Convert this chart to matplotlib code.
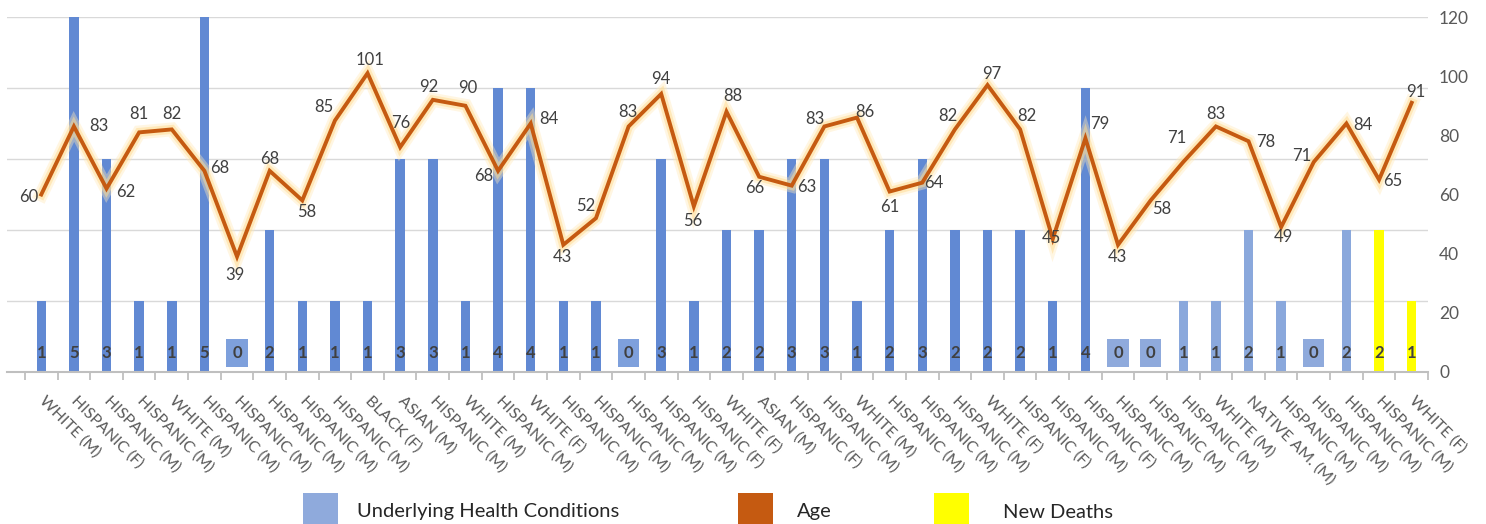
import matplotlib
matplotlib.use("Agg")
import matplotlib.pyplot as plt
import matplotlib.patheffects as pe
from matplotlib.patches import Rectangle

plt.rcParams["font.family"] = ["Lato", "DejaVu Sans"]

categories = [
    "WHITE (M)", "HISPANIC (F)", "HISPANIC (M)", "HISPANIC (M)", "WHITE (M)",
    "HISPANIC (M)", "HISPANIC (M)", "HISPANIC (M)", "HISPANIC (M)", "HISPANIC (M)",
    "BLACK (F)", "ASIAN (M)", "HISPANIC (M)", "WHITE (M)", "HISPANIC (M)",
    "WHITE (F)", "HISPANIC (M)", "HISPANIC (M)", "HISPANIC (M)", "HISPANIC (M)",
    "HISPANIC (F)", "WHITE (F)", "ASIAN (M)", "HISPANIC (F)", "HISPANIC (M)",
    "WHITE (M)", "HISPANIC (M)", "HISPANIC (M)", "HISPANIC (M)", "WHITE (F)",
    "HISPANIC (F)", "HISPANIC (M)", "HISPANIC (F)", "HISPANIC (M)", "HISPANIC (M)",
    "HISPANIC (M)", "WHITE (M)", "NATIVE AM. (M)", "HISPANIC (M)", "HISPANIC (M)",
    "HISPANIC (M)", "HISPANIC (M)", "WHITE (F)",
]

# underlying health conditions (first 41 people), new deaths are the last 2
conditions = [1, 5, 3, 1, 1, 5, 0, 2, 1, 1,
              1, 3, 3, 1, 4, 4, 1, 1, 0, 3,
              1, 2, 2, 3, 3, 1, 2, 3, 2, 2,
              2, 1, 4, 0, 0, 1, 1, 2, 1, 0,
              2]
new_deaths = [2, 1]

ages = [60, 83, 62, 81, 82, 68, 39, 68, 58, 85,
        101, 76, 92, 90, 68, 84, 43, 52, 83, 94,
        56, 88, 66, 63, 83, 86, 61, 64, 82, 97,
        82, 45, 79, 43, 58, 71, 83, 78, 49, 71,
        84, 65, 91]

# label offsets for the age labels (pixels, x right / y down)
age_offsets = [(-13, 3), (25, 0), (19, 3), (0, -18), (0, -15), (15, -3), (-2, 18), (0, -12), (4, 12), (-11, -14),
               (2, -13), (1, -24), (-4, -13), (2, -18), (-14, 5), (18, -4), (-1, 12), (-10, -12), (-1, -14), (0, -15),
               (-1, 15), (6, -16), (-4, 11), (15, 1), (-9, -7), (8, -6), (0, 15), (12, 0), (-7, -13), (4, -11),
               (7, -13), (-1, -1), (14, -14), (-1, 12), (11, 9), (-7, -24), (0, -12), (17, 1), (2, 10), (-12, -6),
               (16, 1), (14, 1), (4, -11)]

BLUE_DARK = "#6189D3"
BLUE_LIGHT = "#8AA8DC"
LEGEND_BLUE = "#8FAADC"
ORANGE = "#C55A11"
YELLOW = "#FFFF00"
TEXT = "#595959"

W, H = 1486, 524
fig = plt.figure(figsize=(W / 100, H / 100), dpi=100)
ax = fig.add_axes([7 / W, 1 - 372 / H, (1428 - 7) / W, (372 - 17) / H])
ax2 = ax.twinx()

n = len(categories)
xs = list(range(n))

# bars
bar_w = 0.29
for i, v in enumerate(conditions):
    col = BLUE_DARK if i < 33 else BLUE_LIGHT
    if v > 0:
        ax.bar(i, v, width=bar_w, color=col, zorder=2)
        ax.text(i, 0.27, str(v), ha="center", va="center", fontsize=12,
                fontweight="bold", color="#404040", zorder=3)
    else:
        ax.text(i, 0.27, "0", ha="center", va="center", fontsize=12,
                fontweight="bold", color="#404040", zorder=3,
                bbox=dict(boxstyle="square,pad=0.35", fc=LEGEND_BLUE if i >= 33 else "#7EA0DC", ec="none"))
for j, v in enumerate(new_deaths):
    i = len(conditions) + j
    ax.bar(i, v, width=bar_w, color=YELLOW, zorder=2)
    ax.text(i, 0.27, str(v), ha="center", va="center", fontsize=12,
            fontweight="bold", color="#404040", zorder=3)

ax.set_ylim(0, 5)
ax.set_xlim(-1.05, n - 0.5)
ax.set_yticks(range(0, 6))
ax.yaxis.grid(True, color="#D9D9D9", lw=1, zorder=0)
ax.set_axisbelow(True)
ax.tick_params(axis="y", left=False, labelleft=False)
for s in ["top", "left", "right"]:
    ax.spines[s].set_visible(False)
ax.spines["bottom"].set_color("#BFBFBF")
ax.spines["bottom"].set_linewidth(1.5)

ax.set_xticks(xs)
ax.set_xticklabels(categories, rotation=-45, rotation_mode="anchor",
                   ha="left", va="center", fontsize=11.5, color=TEXT)
ax.tick_params(axis="x", length=0, pad=19)
ax.set_xticks([k - 0.5 for k in range(n + 1)], minor=True)
ax.tick_params(axis="x", which="minor", length=6, color="#BFBFBF", width=1.3)

# age line
ax2.plot(xs, ages, color=ORANGE, lw=2.8, zorder=5, solid_joinstyle="miter",
         path_effects=[pe.Stroke(linewidth=10, foreground="#FFE9B8", alpha=0.4),
                       pe.Stroke(linewidth=6.5, foreground="#FFDB8F", alpha=0.5),
                       pe.Normal()])
for i, a in enumerate(ages):
    dx, dy = age_offsets[i]
    ax2.annotate(str(a), (i, a), xytext=(dx, -dy), textcoords="offset pixels",
                 ha="center", va="center", fontsize=12, color="#404040", zorder=6)

ax2.set_ylim(0, 120)
ax2.set_yticks(range(0, 121, 20))
ax2.tick_params(axis="y", length=0, labelsize=12.5, labelcolor=TEXT, pad=8)
for s in ["top", "left", "right", "bottom"]:
    ax2.spines[s].set_visible(False)

# legend at bottom
legend_items = [("Underlying Health Conditions", LEGEND_BLUE, 303, 357),
                ("Age", ORANGE, 738, 797),
                ("New Deaths", YELLOW, 934, 1003)]
for label, col, px, tx in legend_items:
    fig.add_artist(Rectangle((px / W, -10 / H), 35 / W, 41 / H,
                             transform=fig.transFigure, fc=col, ec="none"))
    fig.text(tx / W, 12 / H, label, ha="left", va="center", fontsize=14.5, color="#262626")

fig.savefig("out.png", dpi=100)
